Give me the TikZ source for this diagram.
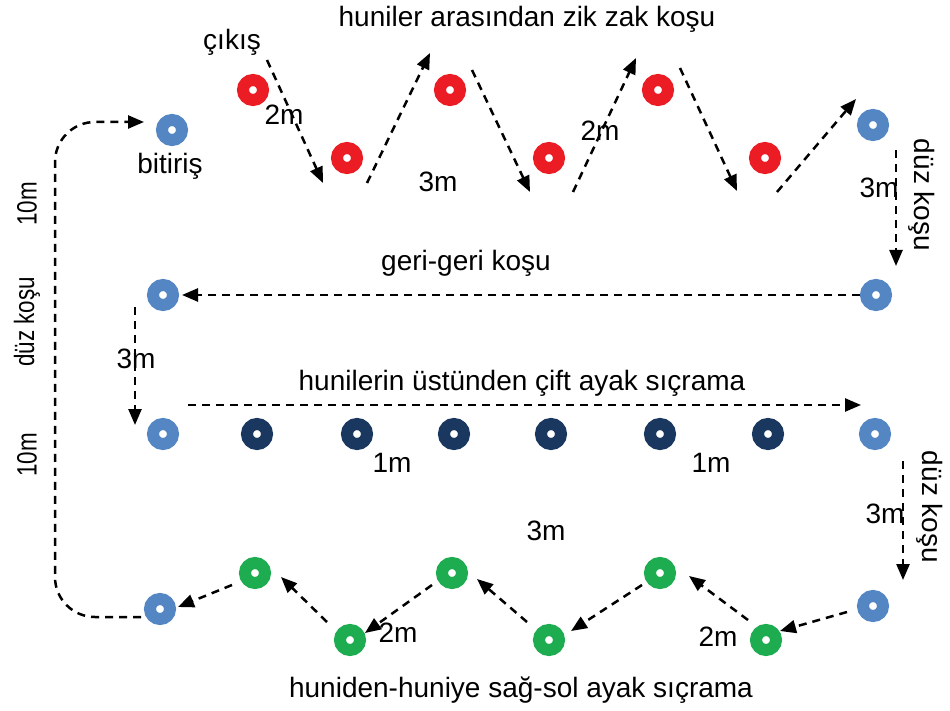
\documentclass[tikz,border=0pt]{standalone}
\usepackage{fontspec}
\setmainfont{Liberation Sans}
\usetikzlibrary{arrows.meta}
\definecolor{conered}{RGB}{235,28,36}
\definecolor{coneblue}{RGB}{84,134,196}
\definecolor{conenavy}{RGB}{25,55,95}
\definecolor{conegreen}{RGB}{30,172,80}
\begin{document}
\begin{tikzpicture}[x=1pt,y=-1pt,
  cone/.style={circle, draw=#1, fill=white, line width=12pt, minimum size=20pt, inner sep=0pt},
  run/.style={line width=2.5pt, dash pattern=on 8pt off 6pt, -{Triangle[length=16pt,width=13pt]}},
  lbl/.style={font=\fontsize{28}{32}\selectfont, inner sep=0pt, text=black},
  slbl/.style={font=\fontsize{28}{32}\selectfont, inner sep=0pt, text=black}]
\useasboundingbox (0,0) rectangle (950,711);
\fill[white] (0,0) rectangle (950,711);

% red cones
\node[cone=conered] (r1) at (253,90) {};
\node[cone=conered] (r2) at (347,158) {};
\node[cone=conered] (r3) at (450,90) {};
\node[cone=conered] (r4) at (549,158) {};
\node[cone=conered] (r5) at (658,90) {};
\node[cone=conered] (r6) at (765,158) {};
% blue cones
\node[cone=coneblue] (bend) at (172,130) {};
\node[cone=coneblue] (b1) at (873,125) {};
\node[cone=coneblue] (b2) at (876,295) {};
\node[cone=coneblue] (b3) at (163,295) {};
\node[cone=coneblue] (b4) at (163,434) {};
\node[cone=coneblue] (b5) at (875,434) {};
\node[cone=coneblue] (b6) at (873,606) {};
\node[cone=coneblue] (b7) at (160,609) {};
% navy cones
\node[cone=conenavy] (n1) at (257,434) {};
\node[cone=conenavy] (n2) at (357,434) {};
\node[cone=conenavy] (n3) at (454,434) {};
\node[cone=conenavy] (n4) at (551,434) {};
\node[cone=conenavy] (n5) at (660,434) {};
\node[cone=conenavy] (n6) at (768,434) {};
% green cones
\node[cone=conegreen] (g1) at (255,573) {};
\node[cone=conegreen] (g2) at (350,640) {};
\node[cone=conegreen] (g3) at (452,573) {};
\node[cone=conegreen] (g4) at (549,640) {};
\node[cone=conegreen] (g5) at (660,573) {};
\node[cone=conegreen] (g6) at (766,640) {};

% labels
\node[lbl] (title1) at (527,19) {huniler arasından zik zak koşu};
\node[lbl] (start) at (232,42) {çıkış};
\node[lbl] (m2a) at (284,115) {2m};
\node[lbl] (m3a) at (438,182) {3m};
\node[lbl] (m2b) at (600,131) {2m};
\node[lbl] (finish) at (170,166) {bitiriş};
\node[lbl, rotate=-90] (duzr1) at (922,195) {düz koşu};
\node[lbl] (m3r1) at (879,188) {3m};
\node[lbl] (title2) at (466,263) {geri-geri koşu};
\node[lbl] (m3l) at (136,359) {3m};
\node[lbl] (title3) at (522,383) {hunilerin üstünden çift ayak sıçrama};
\node[lbl] (m1a) at (392,463) {1m};
\node[lbl] (m1b) at (711,463) {1m};
\node[lbl, rotate=-90] (duzr2) at (930,507) {düz koşu};
\node[lbl] (m3r2) at (885,514) {3m};
\node[lbl] (m3b) at (546,531) {3m};
\node[lbl] (m2c) at (398,633) {2m};
\node[lbl] (m2d) at (718,637) {2m};
\node[lbl] (title4) at (521,690) {huniden-huniye sağ-sol ayak sıçrama};
\node[slbl, rotate=90] (ten1) at (27,204) {\scalebox{0.8}[1]{10m}};
\node[slbl, rotate=90] (duzl) at (27,322) {\scalebox{0.8}[1]{düz koşu}};
\node[slbl, rotate=90] (ten2) at (27,455) {\scalebox{0.8}[1]{10m}};

% arrow end points
\coordinate (a1s) at (267,60);  \coordinate (a1e) at (323,183);
\coordinate (a2s) at (367,183); \coordinate (a2e) at (430,53);
\coordinate (a3s) at (472,70);  \coordinate (a3e) at (530,192);
\coordinate (a4s) at (573,192); \coordinate (a4e) at (636,58);
\coordinate (a5s) at (680,68);  \coordinate (a5e) at (737,191);
\coordinate (a6s) at (777,192); \coordinate (a6e) at (856,99);
\coordinate (a7s) at (896,150); \coordinate (a7e) at (896,266);
\coordinate (a8s) at (860,295); \coordinate (a8e) at (182,295);
\coordinate (a9s) at (135,307); \coordinate (a9e) at (135,425);
\coordinate (a10s) at (188,405); \coordinate (a10e) at (861,405);
\coordinate (a11s) at (903,461); \coordinate (a11e) at (903,580);
\coordinate (a12s) at (847,612); \coordinate (a12e) at (780,631);
\coordinate (a13s) at (748,620); \coordinate (a13e) at (689,576);
\coordinate (a14s) at (642,585); \coordinate (a14e) at (571,631);
\coordinate (a15s) at (527,622); \coordinate (a15e) at (477,579);
\coordinate (a16s) at (432,585); \coordinate (a16e) at (365,633);
\coordinate (a17s) at (327,622); \coordinate (a17e) at (281,577);
\coordinate (a18s) at (232,585); \coordinate (a18e) at (178,607);
\coordinate (a19s) at (141,617); \coordinate (a19e) at (144,122);
\coordinate (cbl) at (55,617); \coordinate (ctl) at (55,122);

\draw[run] (a1s) -- (a1e);
\draw[run] (a2s) -- (a2e);
\draw[run] (a3s) -- (a3e);
\draw[run] (a4s) -- (a4e);
\draw[run] (a5s) -- (a5e);
\draw[run] (a6s) -- (a6e);
\draw[run] (a7s) -- (a7e);
\draw[run] (a8s) -- (a8e);
\draw[run] (a9s) -- (a9e);
\draw[run] (a10s) -- (a10e);
\draw[run] (a11s) -- (a11e);
\draw[run] (a12s) -- (a12e);
\draw[run] (a13s) -- (a13e);
\draw[run] (a14s) -- (a14e);
\draw[run] (a15s) -- (a15e);
\draw[run] (a16s) -- (a16e);
\draw[run] (a17s) -- (a17e);
\draw[run] (a18s) -- (a18e);
\draw[run, rounded corners=40pt] (a19s) -- (cbl) -- (ctl) -- (a19e);
\end{tikzpicture}
\end{document}
